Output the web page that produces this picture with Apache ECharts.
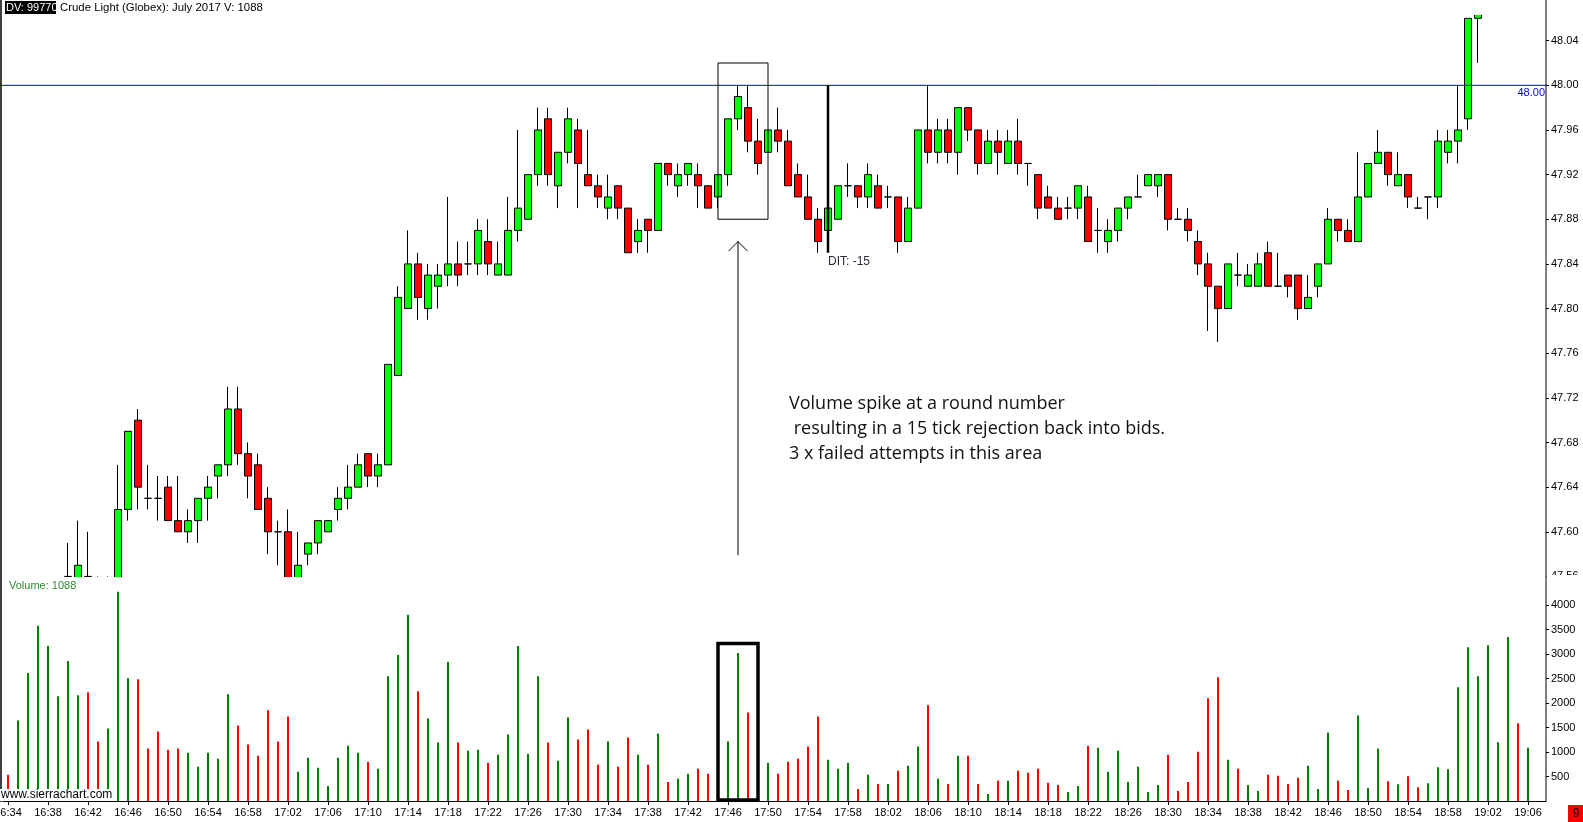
<!DOCTYPE html>
<html>
<head>
<meta charset="utf-8">
<script src="https://cdn.jsdelivr.net/npm/echarts@6/dist/echarts.min.js"></script>
<style>
html,body{margin:0;padding:0;background:#fff;overflow:hidden}
#c{width:1583px;height:822px}
</style>
</head>
<body>
<div id="c"></div>
<script>
// ---- categories (1-minute bars) ----
const times = [
'16:34','16:35','16:36','16:37','16:38','16:39','16:40','16:41','16:42','16:43',
'16:44','16:45','16:46','16:47','16:48','16:49','16:50','16:51','16:52','16:53',
'16:54','16:55','16:56','16:57','16:58','16:59','17:00','17:01','17:02','17:03',
'17:04','17:05','17:06','17:07','17:08','17:09','17:10','17:11','17:12','17:13',
'17:14','17:15','17:16','17:17','17:18','17:19','17:20','17:21','17:22','17:23',
'17:24','17:25','17:26','17:27','17:28','17:29','17:30','17:31','17:32','17:33',
'17:34','17:35','17:36','17:37','17:38','17:39','17:40','17:41','17:42','17:43',
'17:44','17:45','17:46','17:47','17:48','17:49','17:50','17:51','17:52','17:53',
'17:54','17:55','17:56','17:57','17:58','17:59','18:00','18:01','18:02','18:03',
'18:04','18:05','18:06','18:07','18:08','18:09','18:10','18:11','18:12','18:13',
'18:14','18:15','18:16','18:17','18:18','18:19','18:20','18:21','18:22','18:23',
'18:24','18:25','18:26','18:27','18:28','18:29','18:30','18:31','18:32','18:33',
'18:34','18:35','18:36','18:37','18:38','18:39','18:40','18:41','18:42','18:43',
'18:44','18:45','18:46','18:47','18:48','18:49','18:50','18:51','18:52','18:53',
'18:54','18:55','18:56','18:57','18:58','18:59','19:00','19:01','19:02','19:03',
'19:04','19:05','19:06'
];

// ---- OHLC ----
const opens = [
47.50,47.48,47.50,47.52,47.53,47.53,47.56,47.55,47.56,47.54,
47.53,47.54,47.62,47.70,47.63,47.63,47.64,47.61,47.60,47.61,
47.63,47.65,47.66,47.71,47.67,47.66,47.63,47.60,47.60,47.55,
47.58,47.59,47.60,47.62,47.63,47.64,47.67,47.65,47.66,47.74,
47.80,47.84,47.80,47.82,47.83,47.84,47.84,47.84,47.86,47.83,
47.83,47.87,47.88,47.92,47.97,47.91,47.94,47.96,47.92,47.91,
47.89,47.91,47.89,47.86,47.88,47.87,47.93,47.91,47.92,47.92,
47.91,47.90,47.92,47.97,47.98,47.95,47.94,47.96,47.95,47.92,
47.90,47.88,47.87,47.88,47.91,47.91,47.90,47.91,47.90,47.90,
47.86,47.89,47.96,47.94,47.96,47.94,47.98,47.96,47.93,47.95,
47.93,47.95,47.93,47.92,47.90,47.89,47.89,47.89,47.90,47.87,
47.86,47.87,47.89,47.90,47.91,47.91,47.92,47.88,47.88,47.86,
47.84,47.82,47.80,47.83,47.82,47.82,47.85,47.82,47.83,47.83,
47.80,47.82,47.84,47.88,47.87,47.86,47.90,47.93,47.94,47.91,
47.92,47.89,47.90,47.90,47.94,47.95,47.97,48.06,48.08,48.10,
48.11,48.14,48.12
];
const highs = [
47.51,47.51,47.53,47.55,47.55,47.55,47.59,47.61,47.60,47.56,
47.56,47.66,47.69,47.71,47.66,47.65,47.65,47.65,47.62,47.63,
47.65,47.66,47.73,47.73,47.68,47.67,47.64,47.61,47.62,47.60,
47.59,47.61,47.61,47.64,47.66,47.67,47.67,47.67,47.75,47.82,
47.87,47.85,47.84,47.84,47.90,47.86,47.86,47.88,47.88,47.86,
47.90,47.96,47.92,47.98,47.98,47.94,47.98,47.97,47.96,47.92,
47.92,47.91,47.89,47.88,47.88,47.93,47.93,47.93,47.93,47.93,
47.91,47.92,47.97,48.00,48.00,47.97,47.96,47.98,47.96,47.93,
47.92,47.89,47.89,47.91,47.93,47.91,47.93,47.92,47.91,47.90,
47.90,47.96,48.00,47.97,47.97,47.98,47.98,47.96,47.96,47.96,
47.96,47.97,47.93,47.92,47.91,47.90,47.90,47.91,47.91,47.89,
47.88,47.89,47.90,47.92,47.92,47.92,47.92,47.89,47.89,47.87,
47.85,47.82,47.84,47.85,47.84,47.85,47.86,47.85,47.83,47.83,
47.83,47.84,47.89,47.88,47.88,47.94,47.93,47.96,47.94,47.94,
47.92,47.90,47.90,47.96,47.96,48.00,48.06,48.09,48.11,48.12,
48.15,48.15,48.14
];
const lows = [
47.47,47.47,47.49,47.51,47.52,47.52,47.55,47.54,47.55,47.52,
47.52,47.53,47.61,47.62,47.62,47.61,47.61,47.60,47.59,47.59,
47.61,47.63,47.65,47.66,47.63,47.62,47.58,47.57,47.54,47.54,
47.57,47.58,47.60,47.61,47.62,47.64,47.64,47.64,47.66,47.74,
47.80,47.79,47.79,47.80,47.82,47.82,47.83,47.83,47.83,47.83,
47.83,47.86,47.88,47.91,47.91,47.89,47.93,47.89,47.91,47.89,
47.88,47.88,47.85,47.85,47.85,47.87,47.91,47.90,47.91,47.89,
47.89,47.89,47.91,47.96,47.94,47.92,47.94,47.94,47.91,47.90,
47.88,47.85,47.87,47.88,47.90,47.89,47.89,47.89,47.89,47.85,
47.86,47.89,47.93,47.93,47.93,47.92,47.95,47.92,47.93,47.92,
47.93,47.92,47.91,47.88,47.89,47.88,47.88,47.88,47.86,47.85,
47.85,47.86,47.88,47.90,47.91,47.90,47.87,47.88,47.86,47.83,
47.78,47.77,47.80,47.82,47.82,47.82,47.82,47.82,47.81,47.79,
47.80,47.81,47.84,47.86,47.86,47.86,47.90,47.93,47.91,47.91,
47.89,47.89,47.88,47.89,47.93,47.93,47.96,48.02,48.07,48.09,
48.10,48.11,48.11
];
const closes = [
47.48,47.50,47.52,47.54,47.54,47.55,47.56,47.57,47.56,47.53,
47.55,47.62,47.69,47.64,47.63,47.63,47.61,47.60,47.61,47.63,
47.64,47.66,47.71,47.67,47.65,47.62,47.60,47.60,47.55,47.57,
47.59,47.61,47.61,47.63,47.64,47.66,47.65,47.66,47.75,47.81,
47.84,47.81,47.83,47.83,47.84,47.83,47.84,47.87,47.84,47.84,
47.87,47.89,47.92,47.96,47.92,47.94,47.97,47.93,47.91,47.90,
47.90,47.89,47.85,47.87,47.87,47.93,47.92,47.92,47.93,47.91,
47.89,47.92,47.97,47.99,47.95,47.93,47.96,47.95,47.91,47.90,
47.88,47.86,47.89,47.91,47.91,47.90,47.92,47.89,47.90,47.86,
47.89,47.96,47.94,47.96,47.94,47.98,47.96,47.93,47.95,47.94,
47.95,47.93,47.93,47.89,47.89,47.88,47.89,47.91,47.86,47.87,
47.87,47.89,47.90,47.90,47.92,47.92,47.88,47.88,47.87,47.84,
47.82,47.80,47.84,47.83,47.83,47.84,47.82,47.82,47.82,47.80,
47.81,47.84,47.88,47.87,47.86,47.90,47.93,47.94,47.92,47.92,
47.90,47.89,47.90,47.95,47.95,47.96,48.06,48.08,48.10,48.11,
48.14,48.12,48.13
];

// ---- volume ----
const volumes = [
534,1644,2610,3576,3165,2137,2856,2158,2219,1212,
1480,4268,2507,2487,1069,1418,1048,1069,986,699,
986,863,2178,1541,1151,925,1850,1212,1726,596,
884,678,308,884,1130,986,801,658,2548,2980,
3802,2240,1685,1192,2836,1192,1028,1048,781,945,
1356,3165,966,2548,1192,822,1706,1254,1459,740,
1212,699,1295,945,740,1377,390,452,555,658,
555,411,1212,3021,1808,637,781,555,801,863,
1110,1726,843,658,781,247,534,349,349,617,
719,1110,1952,452,349,925,925,349,144,411,
411,617,575,658,370,329,185,308,1130,1089,
596,1028,390,699,185,329,945,206,390,1007,
2096,2528,843,658,329,206,534,514,349,473,
719,247,1397,411,226,1747,267,1069,402,341,
504,279,361,688,647,2323,3140,2548,3181,1199,
3345,1587,1088
];

// ---- tick labels ----
const priceTicks = [48.04,48.00,47.96,47.92,47.88,47.84,47.80,47.76,47.72,47.68,47.64,47.60,47.56];
const volumeTicks = [500,1000,1500,2000,2500,3000,3500,4000];

// ---- annotations ----
const noteLines = [
  'Volume spike at a round number',
  ' resulting in a 15 tick rejection back into bids.',
  '3 x failed attempts in this area'
];

// direction of each bar (for volume colouring)
const dirs = [];
for (let i = 0; i < closes.length; i++) {
  let d;
  if (closes[i] > opens[i]) d = 1;
  else if (closes[i] < opens[i]) d = -1;
  else if (i > 0 && closes[i] > closes[i-1]) d = 1;
  else if (i > 0 && closes[i] < closes[i-1]) d = -1;
  else d = i > 0 ? dirs[i-1] : 1;
  dirs.push(d);
}
const candles = opens.map((o, i) => [o, closes[i], lows[i], highs[i]]);

const FONT = 'Liberation Sans, Arial, sans-serif';
const chart = echarts.init(document.getElementById('c'));

const GRID_TOP = 15, GRID_H = 562;

chart.setOption({
  animation: false,
  backgroundColor: '#ffffff',
  grid: [
    { left: 3, width: 1530, top: GRID_TOP, height: GRID_H, containLabel: false, outerBoundsMode: 'none' },
    { left: 3, width: 1530, top: 580.5, height: 220.5, containLabel: false, outerBoundsMode: 'none' }
  ],
  xAxis: [
    { type: 'category', gridIndex: 0, data: times, boundaryGap: true, show: false },
    { type: 'category', gridIndex: 1, data: times, boundaryGap: true,
      axisLine: { show: true, lineStyle: { color: '#000', width: 1 } },
      axisTick: { show: true, interval: 3, alignWithLabel: true, length: 4, lineStyle: { color: '#000' } },
      axisLabel: { interval: 3, color: '#000', fontSize: 11, fontFamily: FONT, margin: 6,
                   alignMinLabel: 'center', alignMaxLabel: 'center' },
      splitLine: { show: false } }
  ],
  yAxis: [
    { type: 'value', gridIndex: 0, position: 'right', offset: 13,
      min: 47.5595, max: 48.063,
      splitLine: { show: false }, axisLine: { show: false },
      axisTick: { show: true, customValues: priceTicks, length: 3, lineStyle: { color: '#000' } },
      axisLabel: { customValues: priceTicks, formatter: v => v.toFixed(2), color: '#000',
                   fontSize: 11, fontFamily: FONT, margin: 5, showMinLabel: true } },
    { type: 'value', gridIndex: 1, position: 'right', offset: 13,
      min: 0, max: 4500,
      splitLine: { show: false }, axisLine: { show: false },
      axisTick: { show: true, customValues: volumeTicks, length: 3, lineStyle: { color: '#000' } },
      axisLabel: { customValues: volumeTicks, formatter: v => String(Math.round(v)), color: '#000',
                   fontSize: 11, fontFamily: FONT, margin: 5 } }
  ],
  series: [
    { type: 'candlestick', xAxisIndex: 0, yAxisIndex: 0, data: candles, z: 2,
      barWidth: 7, clip: true,
      itemStyle: { color: '#00ff00', color0: '#ff0000', borderColor: '#000', borderColor0: '#000',
                   borderColorDoji: '#000', borderWidth: 1 } },
    { type: 'bar', xAxisIndex: 1, yAxisIndex: 1, data: volumes, barWidth: 2, z: 5,
      itemStyle: { color: p => dirs[p.dataIndex] > 0 ? '#008000' : '#ff0000' } }
  ]
});

function P(i, v) { return chart.convertToPixel({ xAxisIndex: 0, yAxisIndex: 0 }, [i, v]); }
function V(i, v) { return chart.convertToPixel({ xAxisIndex: 1, yAxisIndex: 1 }, [i, v]); }

const axisX = 1546;
const y48 = P(0, 48.00)[1];
const boxA = P(times.indexOf('17:45'), 48.02), boxB = P(times.indexOf('17:50'), 47.88);
const arrTop = P(times.indexOf('17:47'), 47.86), arrBot = P(times.indexOf('17:47'), 47.579);
const rulTop = P(times.indexOf('17:56'), 48.00), rulBot = P(times.indexOf('17:56'), 47.85);
const vA = V(times.indexOf('17:45'), 3213), vB = V(times.indexOf('17:49'), 0);

const g = [
  // masks that clip candles to the price pane (drawn above candles, below volume bars)
  { type: 'rect', shape: { x: 2, y: -20, width: axisX - 2.5, height: GRID_TOP + 20 }, style: { fill: '#fff' }, z: 3 },
  { type: 'rect', shape: { x: 2, y: GRID_TOP + GRID_H, width: axisX - 2.5, height: 60 }, style: { fill: '#fff' }, z: 3 },
  // lower part of the price scale is covered by the volume pane
  { type: 'rect', shape: { x: axisX + 0.5, y: GRID_TOP + GRID_H - 2, width: 40, height: 12 }, style: { fill: '#fff' }, z: 30 },
  // frame lines
  { type: 'line', shape: { x1: 1, y1: 0, x2: 1, y2: 802 }, style: { stroke: '#000', lineWidth: 1.5 }, z: 50 },
  { type: 'line', shape: { x1: axisX, y1: 0, x2: axisX, y2: 802 }, style: { stroke: '#000', lineWidth: 1 }, z: 50 },
  { type: 'line', shape: { x1: 1533, y1: 801.5, x2: axisX, y2: 801.5 }, style: { stroke: '#000', lineWidth: 1 }, z: 50 },
  // 48.00 level
  { type: 'line', shape: { x1: 0, y1: y48, x2: axisX, y2: y48 }, style: { stroke: '#0000ff', lineWidth: 1 }, z: 40 },
  { type: 'text', x: axisX - 1, y: y48 + 2, style: { text: '48.00', fill: '#0000ff', font: '11px ' + FONT, align: 'right', verticalAlign: 'top' }, z: 41 },
  // price box
  { type: 'rect', shape: { x: boxA[0], y: boxA[1], width: boxB[0] - boxA[0], height: boxB[1] - boxA[1] },
    style: { fill: 'none', stroke: '#000', lineWidth: 1 }, z: 45 },
  // arrow
  { type: 'line', shape: { x1: arrBot[0], y1: arrBot[1], x2: arrTop[0], y2: arrTop[1] }, style: { stroke: '#000', lineWidth: 1 }, z: 45 },
  { type: 'polyline', shape: { points: [[arrTop[0] - 9.5, arrTop[1] + 9.5], [arrTop[0], arrTop[1]], [arrTop[0] + 9.5, arrTop[1] + 9.5]] },
    style: { stroke: '#000', lineWidth: 1, fill: 'none' }, z: 45 },
  // ruler
  { type: 'line', shape: { x1: rulTop[0], y1: rulTop[1], x2: rulBot[0], y2: rulBot[1] }, style: { stroke: '#000', lineWidth: 2.5 }, z: 45 },
  { type: 'text', x: rulBot[0], y: rulBot[1] + 3, style: { text: 'DIT: -15', fill: '#2a2a3a', font: '12px ' + FONT, verticalAlign: 'top' }, z: 45 },
  // volume box
  { type: 'rect', shape: { x: vA[0], y: vA[1], width: vB[0] - vA[0], height: vB[1] - vA[1] - 1 },
    style: { fill: 'none', stroke: '#000', lineWidth: 3.5 }, z: 45 },
  // title
  { type: 'rect', shape: { x: 5, y: 1, width: 51, height: 13 }, style: { fill: '#000' }, z: 60 },
  { type: 'text', x: 6, y: 7.5, style: { text: 'DV: 99770', fill: '#fff', font: '11px ' + FONT, verticalAlign: 'middle' }, z: 61 },
  { type: 'text', x: 60, y: 7.5, style: { text: 'Crude Light (Globex): July 2017 V: 1088', fill: '#000', font: '11.4px ' + FONT, verticalAlign: 'middle' }, z: 61 },
  // volume label
  { type: 'text', x: 9, y: 586, style: { text: 'Volume: 1088', fill: '#2e8b2e', font: '11px ' + FONT, verticalAlign: 'middle' }, z: 61 },
  // watermark
  { type: 'rect', shape: { x: 0, y: 789, width: 113, height: 12 }, style: { fill: '#fff' }, z: 58 },
  { type: 'text', x: 1, y: 795, style: { text: 'www.sierrachart.com', fill: '#000', font: '12px ' + FONT, verticalAlign: 'middle' }, z: 61 },
  // red box bottom right
  { type: 'rect', shape: { x: 1568, y: 805, width: 15, height: 17 }, style: { fill: '#ff0000' }, z: 60 },
  { type: 'text', x: 1576, y: 813.5, style: { text: '9', fill: '#000', font: '12px ' + FONT, align: 'center', verticalAlign: 'middle' }, z: 61 }
];
noteLines.forEach((t, k) => {
  g.push({ type: 'text', x: 789, y: 404.3 + k * 24.7,
           style: { text: t, fill: '#111', font: '18px "Open Sans", "Noto Sans", sans-serif', verticalAlign: 'middle' }, z: 61 });
});
chart.setOption({ graphic: { elements: g } });
</script>
</body>
</html>
